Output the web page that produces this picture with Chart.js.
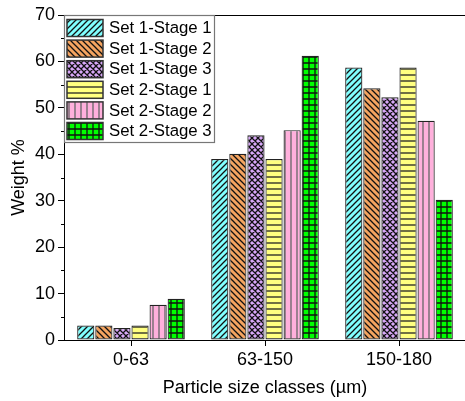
<html><head><meta charset="UTF-8">
<title>Particle size classes</title>
<script src="https://cdn.jsdelivr.net/npm/chart.js"></script>
<style>
body {
  margin: 0;
  overflow: hidden;
  background: white;
}
.chart-box {
  width: 470px;
  height: 401px;
}
</style>
</head>
<body>
<div class="chart-box"><canvas id="sizeChart" width="470" height="401"></canvas></div>
<script>
// data
const categories = ['0-63', '63-150', '150-180'];
const seriesLabels = ['Set 1-Stage 1', 'Set 1-Stage 2', 'Set 1-Stage 3', 'Set 2-Stage 1', 'Set 2-Stage 2', 'Set 2-Stage 3'];
const set1Stage1 = [3.1, 39.0, 58.7];
const set1Stage2 = [3.1, 40.1, 54.2];
const set1Stage3 = [2.6, 44.1, 52.3];
const set2Stage1 = [3.1, 39.0, 58.7];
const set2Stage2 = [7.6, 45.2, 47.2];
const set2Stage3 = [8.9, 61.2, 30.2];
const yTicks = [0, 10, 20, 30, 40, 50, 60, 70];

// fill colour + hatch kind for each series
const fills = [
  { bg: '#80ffff', kind: 'fwd', line: '#111' },
  { bg: '#f4a460', kind: 'back', line: '#111' },
  { bg: '#d8a8f8', kind: 'cross', line: '#111' },
  { bg: '#ffff80', kind: 'horiz', line: '#222' },
  { bg: '#ffb0dc', kind: 'vert', line: '#666' },
  { bg: '#00ff00', kind: 'grid', line: '#111' }
];

function makePattern(f) {
  const c = document.createElement('canvas');
  c.width = 6; c.height = 6;
  const g = c.getContext('2d');
  g.fillStyle = f.bg;
  g.fillRect(0, 0, 6, 6);
  g.strokeStyle = f.line;
  g.lineWidth = 1.3;
  g.beginPath();
  if (f.kind === 'fwd' || f.kind === 'cross') {
    g.moveTo(-1, 7); g.lineTo(7, -1);
    g.moveTo(-1, 1); g.lineTo(1, -1);
    g.moveTo(5, 7); g.lineTo(7, 5);
  }
  if (f.kind === 'back' || f.kind === 'cross') {
    g.moveTo(-1, -1); g.lineTo(7, 7);
    g.moveTo(5, -1); g.lineTo(7, 1);
    g.moveTo(-1, 5); g.lineTo(1, 7);
  }
  if (f.kind === 'horiz' || f.kind === 'grid') {
    g.moveTo(0, 3); g.lineTo(6, 3);
  }
  if (f.kind === 'vert' || f.kind === 'grid') {
    g.moveTo(3, 0); g.lineTo(3, 6);
  }
  g.stroke();
  return g.createPattern(c, 'repeat');
}

const patterns = fills.map(makePattern);
const seriesData = [set1Stage1, set1Stage2, set1Stage3, set2Stage1, set2Stage2, set2Stage3];

// legend inside the plot, top left, plus minor ticks and the top frame line
const extras = {
  id: 'extras',
  afterDraw(chart) {
    const ctx = chart.ctx;
    const area = chart.chartArea;
    const y = chart.scales.y;
    ctx.save();
    ctx.strokeStyle = '#000';
    ctx.lineWidth = 1;
    // top frame
    ctx.beginPath();
    ctx.moveTo(area.left, area.top + 0.5);
    ctx.lineTo(area.right, area.top + 0.5);
    ctx.stroke();
    // minor ticks
    ctx.beginPath();
    for (let i = 0; i < yTicks.length - 1; i++) {
      const py = Math.round(y.getPixelForValue((yTicks[i] + yTicks[i + 1]) / 2)) + 0.5;
      ctx.moveTo(area.left - 3, py);
      ctx.lineTo(area.left, py);
    }
    ctx.stroke();

    // legend
    const bx = area.left, by = area.top;
    const bw = 150, bh = 127;
    ctx.fillStyle = '#fff';
    ctx.fillRect(bx, by, bw, bh);
    ctx.strokeStyle = '#777';
    ctx.lineWidth = 1.2;
    ctx.strokeRect(bx + 0.5, by + 0.5, bw, bh);
    ctx.font = '16.8px "Liberation Sans", Arial, sans-serif';
    ctx.textBaseline = 'middle';
    chart.data.datasets.forEach((ds, i) => {
      const ry = by + 4.5 + i * 20.6;
      ctx.fillStyle = ds.backgroundColor;
      ctx.fillRect(bx + 3, ry, 36, 17);
      ctx.strokeStyle = '#333';
      ctx.lineWidth = 1.5;
      ctx.strokeRect(bx + 3, ry, 36, 17);
      ctx.fillStyle = '#000';
      ctx.fillText(ds.label, bx + 45, ry + 9);
    });
    ctx.restore();
  }
};

const ctx = document.getElementById('sizeChart').getContext('2d');
new Chart(ctx, {
  type: 'bar',
  data: {
    labels: categories,
    datasets: seriesLabels.map((label, i) => ({
      label: label,
      data: seriesData[i],
      backgroundColor: patterns[i],
      borderColor: '#222',
      borderWidth: 1.2,
      borderSkipped: false,
      categoryPercentage: 0.81,
      barPercentage: 0.95
    }))
  },
  options: {
    responsive: false,
    animation: false,
    layout: { padding: { top: 15, right: 4, left: 0, bottom: 0 } },
    plugins: {
      legend: { display: false },
      tooltip: { enabled: false }
    },
    scales: {
      x: {
        afterFit(scale) { scale.height = 61; },
        grid: { offset: false, drawOnChartArea: false, tickLength: 6, tickColor: '#000' },
        border: { color: '#000', width: 1 },
        ticks: { color: '#000', padding: 3, font: { family: '"Liberation Sans", Arial', size: 18 } },
        title: {
          display: true,
          text: 'Particle size classes (µm)',
          color: '#000',
          padding: { top: 0, bottom: 2 },
          font: { family: '"Liberation Sans", Arial', size: 18 }
        }
      },
      y: {
        min: 0,
        max: 70,
        afterFit(scale) { scale.width = 64; },
        afterBuildTicks(scale) { scale.ticks = yTicks.map(v => ({ value: v })); },
        grid: { drawOnChartArea: false, tickLength: 6, tickColor: '#000' },
        border: { color: '#000', width: 1 },
        ticks: { color: '#000', padding: 3, font: { family: '"Liberation Sans", Arial', size: 18 } },
        title: {
          display: true,
          text: 'Weight %',
          color: '#000',
          padding: { top: 8, bottom: 0 },
          font: { family: '"Liberation Sans", Arial', size: 18 }
        }
      }
    }
  },
  plugins: [extras]
});
</script>
</body></html>
